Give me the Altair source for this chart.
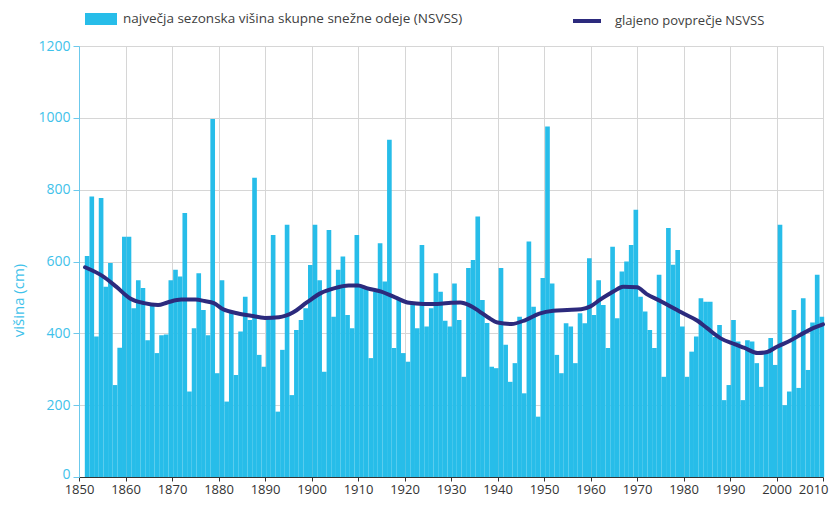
import altair as alt
import pandas as pd

# ---- data ----
seasons = list(range(1852, 2011))  # 159 winters (bar labelled by end year)
snow = [
    615, 781, 391, 777, 530, 596, 256, 360, 669, 669,
    470, 548, 526, 381, 479, 345, 395, 397, 548, 577,
    558, 735, 238, 414, 567, 465, 395, 997, 289, 548,
    210, 456, 284, 405, 502, 437, 833, 340, 307, 446,
    674, 182, 354, 702, 228, 409, 437, 470, 590, 702,
    548, 293, 688, 446, 577, 614, 451, 414, 674, 530,
    530, 331, 516, 651, 544, 939, 359, 498, 345, 321,
    484, 414, 646, 419, 470, 567, 516, 435, 419, 539,
    437, 279, 582, 604, 725, 493, 429, 307, 303, 582,
    368, 265, 317, 446, 233, 656, 474, 168, 554, 976,
    539, 340, 289, 428, 419, 317, 456, 428, 609, 451,
    548, 479, 359, 641, 442, 572, 600, 646, 744, 502,
    461, 409, 359, 563, 279, 693, 591, 632, 419, 279,
    349, 391, 498, 488, 488, 390, 423, 214, 256, 437,
    377, 214, 381, 377, 317, 251, 345, 387, 312, 702,
    200, 238, 465, 248, 498, 298, 430, 563, 446,
]

line_years = [1851.3, 1855, 1858, 1861, 1864, 1867, 1869, 1872, 1875, 1877,
              1879, 1881, 1884, 1887, 1890, 1893, 1896, 1899, 1902, 1905,
              1908, 1910, 1912, 1915, 1918, 1921, 1924, 1927, 1930, 1932,
              1934, 1936, 1938, 1940, 1943, 1946, 1949, 1952, 1955, 1958,
              1960, 1962, 1965, 1967, 1970, 1972, 1975, 1977, 1980, 1983,
              1985, 1988, 1991, 1993, 1996, 1998, 2000, 2003, 2006, 2008,
              2010]
line_vals = [584, 560, 530, 497, 484, 479, 486, 494, 494, 490,
             484, 467, 456, 449, 443, 445, 458, 486, 512, 526,
             533, 533, 525, 516, 500, 485, 482, 482, 485, 486,
             478, 462, 444, 430, 426, 437, 455, 463, 465, 467,
             475, 493, 517, 530, 528, 510, 490, 476, 455, 435,
             415, 386, 370, 360, 345, 348, 362, 380, 402, 415,
             425]

bar_label = "največja sezonska višina skupne snežne odeje (NSVSS)"
line_label = "glajeno povprečje NSVSS"
x_ticks = list(range(1850, 2011, 10))
y_ticks = list(range(0, 1201, 200))

BAR = "#27bde9"
LINE = "#2c2a7d"
CYAN_TXT = "#3fc2ea"
FONT = "Open Sans"

bars_df = pd.DataFrame({"season": seasons, "snow": snow})
bars_df["x0"] = bars_df["season"] - 0.75
bars_df["x1"] = bars_df["season"] + 0.25
bars_df["series"] = bar_label
line_df = pd.DataFrame({"year": line_years, "value": line_vals})
line_df["series"] = line_label

x_scale = alt.Scale(domain=[1850, 2010], nice=False, zero=False)
y_scale = alt.Scale(domain=[0, 1200], nice=False)

x_axis = alt.Axis(values=x_ticks, format="d", title=None, grid=True,
                  gridColor="#d6d6d6", gridWidth=1,
                  domainColor="#333333", tickColor="#333333", tickSize=4,
                  labelColor="#333333", labelFont=FONT, labelFontSize=13,
                  labelPadding=2, labelFlush=False,
                  labelAlign=alt.expr("datum.value == 2010 ? 'right' : 'center'"),
                  labelOffset=alt.expr("datum.value == 2010 ? 5 : 0"))
y_axis = alt.Axis(values=y_ticks, format="d", title="višina (cm)", grid=True,
                  gridColor="#d6d6d6", gridWidth=1,
                  domainColor="#6cc9ec", tickColor="#6cc9ec", tickSize=6,
                  labelColor=CYAN_TXT, labelFont=FONT, labelFontSize=14,
                  labelPadding=3,
                  labelOffset=alt.expr("datum.value == 0 ? -3 : 0"),
                  titleColor=CYAN_TXT, titleFont=FONT, titleFontSize=15,
                  titleFontWeight="normal", titleAngle=270,
                  titleX=-61, titleY=254, titleAlign="center",
                  titleBaseline="middle")

bars = alt.Chart(bars_df).mark_rect().encode(
    x=alt.X("x0:Q", scale=x_scale, axis=x_axis),
    x2="x1:Q",
    y=alt.Y("snow:Q", scale=y_scale, axis=y_axis),
    y2=alt.datum(0),
    color=alt.Color("series:N",
                    scale=alt.Scale(domain=[bar_label], range=[BAR]),
                    legend=alt.Legend(title=None, orient="none",
                                      legendX=14, legendY=-35,
                                      symbolType="M-2,-0.75H2V0.75H-2Z",
                                      symbolSize=256, symbolStrokeWidth=0,
                                      labelFont=FONT, labelFontSize=13.5,
                                      labelColor="#404040", labelOffset=14,
                                      labelLimit=600, padding=0)),
)

line = alt.Chart(line_df).mark_line(strokeWidth=4, interpolate="monotone",
                                    strokeCap="round").encode(
    x=alt.X("year:Q", scale=x_scale),
    y=alt.Y("value:Q", scale=y_scale),
    stroke=alt.Stroke("series:N",
                      scale=alt.Scale(domain=[line_label], range=[LINE]),
                      legend=alt.Legend(title=None, orient="none",
                                        legendX=498, legendY=-35,
                                        symbolType="M-1.75,0H1.75",
                                        symbolSize=256,
                                        symbolStrokeWidth=4,
                                        labelFont=FONT, labelFontSize=13,
                                        labelColor="#404040", labelOffset=18,
                                        labelLimit=600, padding=0)),
)

chart = alt.layer(bars, line).resolve_legend(color="independent", stroke="independent").properties(
    width=744, height=431,
    padding={"left": 71, "top": 38, "right": 6, "bottom": 21},
    autosize=alt.AutoSizeParams(type="none"),
    background="white",
).configure_view(strokeWidth=0)

chart.save("out.html", embed_options={"renderer": "svg", "actions": False})
